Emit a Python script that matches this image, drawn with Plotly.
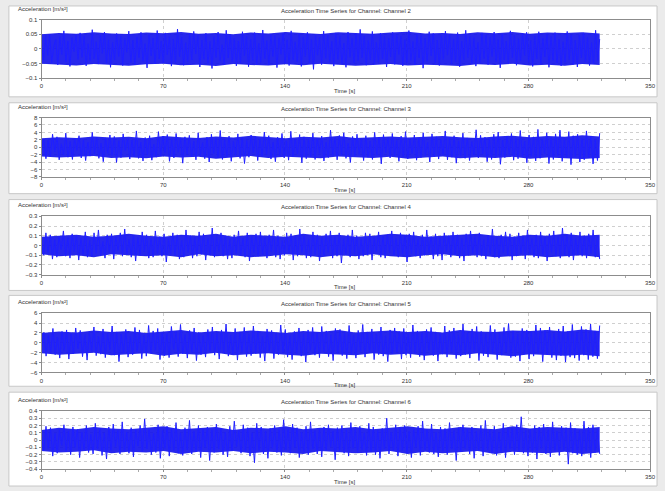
import numpy as np
import plotly.graph_objects as go

W, H = 665, 491

channels = ["Channel 2", "Channel 3", "Channel 4", "Channel 5", "Channel 6"]
t_end = 321.0
x_ticks = [0, 70, 140, 210, 280, 350]

# acceleration samples (integer counts; unit scale per channel below)
ch2 = [12,-38,45,-22,51,-47,8,33,-55,41,-19,62,-44,27,-60,38,-9,49,-36,55,
-28,43,-58,17,-41,66,-33,24,-52,47,-15,58,-49,31,-63,22,-37,53,-26,44,
-57,35,-11,61,-46,29,-54,40,-30,57,-42,18,-65,49,-24,37,-51,63,-34,26,
-48,55,-20,42,-59,33,-45,68,-27,39,-56,21,-43,52,-38,60,-17,46,-62,30,
-35,54,-50,25,-67,41,-29,58,-40,14,-53,64,-31,48,-44,36,-58,27,-47,59,
-23,43,-61,34,-39,56,-52,19,-46,65,-33,28,-55,50,-26,45,-64,38,-18,53,
-49,31,-57,62,-37,24,-43,51,-60,40,-25,57,-48,33,-70,46,-21,39,-54,61,
-32,47,-45,26,-59,55,-36,42,-51,20,-63,58,-28,35,-47,52,-41,67,-30,44,
-56,29,-38,60,-50,23,-45,54,-34,41,-62,36,-27,57,-53,48,-19,43,-58,32,
-46,63,-39,25,-55,50,-31,46,-66,37,-42,59,-24,53,-48,30,-57,45,-35,61,
-21,49,-52,34,-44,56,-61,27,-37,64,-29,42,-50,38,-59,22,-47,55,-33,47,
-54,40,-26,58,-43,31,-65,51,-38,26,-49,62,-30,45,-56,35,-41,53,-22,57,
-46,28,-60,44,-34,59,-51,37,-27,50,-63,42,-39,56,-48,33,-58,24,-45,60,
-36,48,-53,29,-62,46,-31,55,-44,39,-57,21,-50,64,-40,34]

ch3 = [-5,22,-31,18,-26,35,-12,28,-34,9,-21,38,-27,15,-33,24,-8,31,-29,20,
-36,13,-24,40,-18,27,-30,11,-39,25,-16,33,-22,29,-41,17,-28,36,-10,23,
-32,19,-25,44,-30,14,-37,26,-20,31,-35,8,-27,42,-23,30,-15,34,-38,21,
-29,37,-13,25,-43,28,-19,32,-26,16,-34,39,-22,12,-31,27,-40,35,-17,24,
-28,45,-33,20,-25,30,-38,15,-21,36,-30,26,-44,18,-27,33,-14,29,-36,22,
-24,41,-19,31,-32,13,-39,27,-23,37,-29,17,-35,43,-26,21,-18,34,-42,28,
-31,19,-25,38,-33,24,-16,30,-37,14,-28,46,-22,26,-34,32,-20,39,-30,11,
-41,29,-24,35,-19,23,-36,31,-27,16,-33,40,-21,27,-45,34,-15,25,-29,37,
-23,18,-38,30,-26,42,-31,20,-17,33,-35,24,-28,39,-22,13,-40,36,-25,28,
-32,21,-19,44,-34,26,-27,31,-43,17,-23,38,-30,25,-36,15,-21,47,-29,32,
-18,27,-39,22,-33,35,-25,41,-46,19,-28,30,-20,37,-35,24,-31,45,-26,16,
-42,33,-24,28,-37,48,-30,21,-17,39,-44,27,-33,36,-22,46,-38,25,-29,42,
-47,31,-26,35,-40,23,-34,44,-28,30,-45,20,-36,38]

ch4 = [3,-10,13,-7,11,-14,6,-12,9,-4,15,-11,8,-13,12,-6,10,-15,7,-9,
14,-12,5,-11,13,-8,16,-10,4,-13,11,-7,12,-14,9,-5,13,-11,17,-9,
6,-12,10,-16,8,-10,14,-6,11,-13,7,-12,15,-8,9,-11,12,-17,6,-9,
13,-10,11,-14,5,-12,16,-7,10,-13,8,-11,14,-9,12,-15,7,-10,18,-12,
9,-6,13,-11,10,-14,6,-13,11,-8,15,-10,7,-12,13,-16,9,-7,12,-11,
14,-9,8,-13,11,-6,16,-12,10,-14,5,-10,13,-8,12,-15,9,-11,17,-7,
10,-13,6,-12,14,-9,11,-16,8,-10,12,-7,15,-13,9,-11,13,-18,7,-9,
11,-12,16,-8,10,-14,6,-11,13,-10,12,-15,8,-6,14,-12,9,-13,11,-7,
15,-10,7,-12,13,-9,10,-17,12,-8,14,-11,6,-13,11,-10,16,-7,9,-14,
12,-11,8,-15,13,-6,10,-12,14,-9,11,-13,7,-16,12,-10,15,-8,9,-12,
13,-11,6,-14,10,-9,17,-12,8,-13,11,-7,14,-10,12,-15,9,-11,13,-8,
10,-14,16,-9,7,-12,11,-13,14,-10,8,-16,12,-7,15,-11,9,-13,18,-10,
11,-12,13,-15,7,-9,14,-11,10,-13,12,-8,16,-12,9,-14]

ch5 = [-8,21,-27,14,-19,29,-24,11,-31,23,-15,26,-33,18,-22,30,-12,25,-28,16,
-35,20,-17,32,-26,13,-23,28,-30,19,-14,34,-25,22,-38,17,-20,27,-29,12,
-24,31,-18,26,-32,15,-27,35,-21,24,-16,29,-34,20,-26,18,-30,33,-13,23,
-28,37,-22,16,-31,25,-19,30,-36,21,-24,14,-29,27,-17,32,-25,19,-33,26,
-20,38,-27,15,-23,29,-35,22,-18,31,-28,17,-26,34,-21,24,-30,13,-37,28,
-16,25,-32,20,-24,36,-19,27,-29,14,-34,23,-22,30,-27,18,-39,26,-15,31,
-25,21,-30,33,-18,24,-28,16,-36,29,-21,27,-26,19,-32,35,-23,15,-31,25,
-17,37,-29,22,-20,28,-34,18,-24,32,-27,14,-38,26,-22,30,-19,23,-33,29,
-25,17,-30,36,-21,24,-28,20,-35,27,-16,31,-26,22,-37,19,-23,34,-29,25,
-18,30,-32,16,-27,38,-24,21,-31,28,-20,33,-36,23,-26,18,-29,35,-22,27,
-34,20,-25,31,-19,39,-30,24,-28,17,-37,29,-23,26,-33,22,-27,36,-21,30,
-38,25,-24,32,-30,19,-35,28,-26,34,-39,23,-29,37,-31,21,-36,33,-25,27,
-34,38,-28,24,-32,35]

ch6 = [4,-15,19,-11,17,-22,9,-18,14,-7,21,-16,12,-20,18,-10,15,-24,11,-13,
20,-17,8,-19,23,-12,16,-21,10,-26,18,-14,22,-9,13,-19,25,-15,11,-18,
17,-23,14,-8,20,-16,29,-12,15,-20,9,-17,21,-25,13,-11,19,-22,16,-14,
24,-18,10,-21,17,-13,27,-19,12,-16,20,-24,15,-10,18,-28,14,-17,22,-12,
16,-20,11,-23,19,-15,26,-9,13,-18,21,-16,17,-22,10,-31,23,-14,18,-19,
12,-25,16,-11,20,-17,14,-21,28,-13,15,-18,22,-10,17,-24,11,-16,19,-20,
25,-12,13,-19,16,-23,18,-14,21,-9,12,-27,17,-15,20,-18,14,-22,24,-11,
15,-17,19,-13,10,-21,23,-16,18,-20,13,-25,16,-12,30,-19,11,-15,21,-22,
17,-14,20,-18,12,-24,15,-10,19,-21,26,-13,14,-17,22,-19,11,-23,18,-15,
16,-20,24,-12,13,-28,17,-16,21,-11,15,-19,18,-25,12,-14,20,-22,27,-13,
14,-18,19,-21,10,-16,23,-24,17,-12,16,-20,21,-15,32,-18,13,-22,15,-17,
20,-26,18,-11,22,-19,14,-23,25,-16,12,-21,19,-14,17,-33,24,-18,16,-20,
13,-22,26,-15,18,-24,21,-17,15,-19]

# dense core band (upper / lower envelope), same units
ch2_hi = [50,55,52,57,53,51,56,54,58,52,55,50,56,53,58,54,51,57,55,52,56,59,53,55,51,57,54,58,52,56,55,57,53]
ch2_lo = [-51,-54,-57,-52,-55,-58,-53,-51,-56,-54,-59,-52,-55,-57,-53,-56,-51,-54,-58,-55,-52,-57,-54,-56,-59,-53,-55,-51,-57,-54,-58,-52,-55]
ch3_hi = [24,27,25,29,26,28,24,30,27,25,29,26,31,27,24,28,26,30,25,27,29,26,28,30,27,25,29,31,27,30,28,32,29]
ch3_lo = [-25,-28,-26,-24,-29,-27,-30,-25,-28,-26,-31,-27,-24,-29,-26,-28,-30,-25,-27,-29,-26,-31,-28,-25,-30,-27,-29,-26,-31,-28,-30,-32,-29]
ch4_hi = [9,10,11,9,10,12,10,9,11,10,12,9,11,10,9,12,10,11,9,10,12,11,9,10,11,12,10,9,11,10,12,10,11]
ch4_lo = [-9,-11,-10,-12,-9,-10,-11,-10,-12,-9,-11,-10,-12,-11,-9,-10,-12,-10,-11,-9,-11,-12,-10,-9,-11,-10,-12,-11,-10,-12,-11,-10,-12]
ch5_hi = [20,23,21,25,22,24,20,23,26,21,24,22,25,23,20,24,22,26,21,23,25,22,24,21,26,23,22,25,24,26,23,27,24]
ch5_lo = [-21,-24,-22,-20,-25,-23,-21,-26,-22,-24,-20,-25,-23,-21,-24,-26,-22,-23,-25,-21,-24,-22,-26,-23,-25,-21,-24,-27,-23,-25,-26,-24,-27]
ch6_hi = [14,17,15,18,16,15,17,19,15,16,18,14,17,16,19,15,17,16,18,15,17,19,16,15,18,17,15,19,16,18,17,16,18]
ch6_lo = [-15,-17,-16,-14,-18,-16,-17,-15,-19,-16,-17,-15,-18,-16,-17,-19,-15,-16,-18,-17,-15,-19,-16,-18,-17,-15,-19,-16,-17,-18,-16,-19,-17]

series = [ch2, ch3, ch4, ch5, ch6]
band_hi = [ch2_hi, ch3_hi, ch4_hi, ch5_hi, ch6_hi]
band_lo = [ch2_lo, ch3_lo, ch4_lo, ch5_lo, ch6_lo]
unit_scale = [0.001, 0.1, 0.01, 0.1, 0.01]
y_ticks = [
    [-0.1, -0.05, 0, 0.05, 0.1],
    [-8, -6, -4, -2, 0, 2, 4, 6, 8],
    [-0.3, -0.2, -0.1, 0, 0.1, 0.2, 0.3],
    [-6, -4, -2, 0, 2, 4, 6],
    [-0.4, -0.3, -0.2, -0.1, 0, 0.1, 0.2, 0.3, 0.4],
]

# layout geometry (pixels)
plot_px = [(17, 76), (116, 176), (216, 275), (314, 374), (413, 472)]
panel_px = [(3, 95), (101, 193), (199, 291), (296, 388), (394, 489)]
x0_px, x1_px = 40, 656

def py(p):
    return 1 - p / H

def px(p):
    return p / W

fig = go.Figure()
shapes = []
annotations = []
font = "Liberation Sans, Arial, sans-serif"
grid = "#cfcfcf"

for i in range(5):
    sfx = "" if i == 0 else str(i + 1)
    s = unit_scale[i]
    lo = np.array(band_lo[i]) * s
    hi = np.array(band_hi[i]) * s
    tb = np.linspace(0, t_end, len(hi))
    fig.add_trace(go.Scatter(x=tb, y=lo, mode="lines", line=dict(width=0, color="rgba(0,0,0,0)"),
                             xaxis="x" + sfx, yaxis="y" + sfx,
                             showlegend=False, hoverinfo="skip"))
    fig.add_trace(go.Scatter(x=tb, y=hi, mode="lines", line=dict(width=0, color="rgba(0,0,0,0)"),
                             fill="tonexty", fillcolor="rgba(15,15,235,0.9)",
                             xaxis="x" + sfx, yaxis="y" + sfx,
                             showlegend=False, hoverinfo="skip"))
    vals = np.array(series[i]) * s
    t = np.linspace(0, t_end, len(vals))
    fig.add_trace(go.Scatter(x=t, y=vals, mode="lines",
                             line=dict(color="#1f1fff", width=1),
                             xaxis="x" + sfx, yaxis="y" + sfx,
                             showlegend=False, hoverinfo="skip"))
    top, bot = plot_px[i]
    yt = y_ticks[i]
    fig.layout["xaxis" + sfx] = dict(
        domain=[px(x0_px), px(x1_px)], anchor="y" + sfx, range=[0, 350],
        tickvals=x_ticks, showgrid=True, gridcolor=grid, griddash="dot",
        gridwidth=1, zeroline=False, showline=True, mirror=True,
        linecolor="#8c8c8c", linewidth=1, ticks="outside", ticklen=2,
        tickcolor="#8c8c8c", tickfont=dict(size=6, color="#333", family=font),
        minor=dict(ticks="outside", ticklen=2, dtick=14, tickcolor="#aaa"))
    fig.layout["yaxis" + sfx] = dict(
        domain=[py(bot), py(top)], anchor="x" + sfx,
        range=[yt[0], yt[-1]], tickvals=yt, showgrid=True, gridcolor=grid,
        griddash="dot", gridwidth=1, zeroline=False, showline=True, mirror=True,
        linecolor="#8c8c8c", linewidth=1, ticks="outside", ticklen=2,
        tickcolor="#8c8c8c", tickfont=dict(size=6, color="#333", family=font))
    pt, pb = panel_px[i]
    shapes.append(dict(type="rect", xref="paper", yref="paper",
                       x0=px(7), x1=px(663), y0=py(pb), y1=py(pt),
                       fillcolor="white", line=dict(color="#c8c8c8", width=1),
                       layer="below"))
    annotations.append(dict(text="Acceleration Time Series for Channel: " + channels[i],
                            xref="paper", yref="paper",
                            x=px((x0_px + x1_px) / 2), y=py(top - 9),
                            showarrow=False, xanchor="center", yanchor="middle",
                            font=dict(size=6, color="#333", family=font)))
    annotations.append(dict(text="Acceleration [m/s²]", xref="paper", yref="paper",
                            x=px(14), y=py(top - 11), showarrow=False,
                            xanchor="left", yanchor="middle",
                            font=dict(size=6, color="#333", family=font)))
    annotations.append(dict(text="Time [s]", xref="paper", yref="paper",
                            x=px(347), y=py(bot + 13), showarrow=False,
                            xanchor="center", yanchor="middle",
                            font=dict(size=6, color="#333", family=font)))

fig.update_layout(width=W, height=H, margin=dict(l=0, r=0, t=0, b=0),
                  paper_bgcolor="#ebebeb", plot_bgcolor="white",
                  shapes=shapes, annotations=annotations)

fig.write_html("out.html")
